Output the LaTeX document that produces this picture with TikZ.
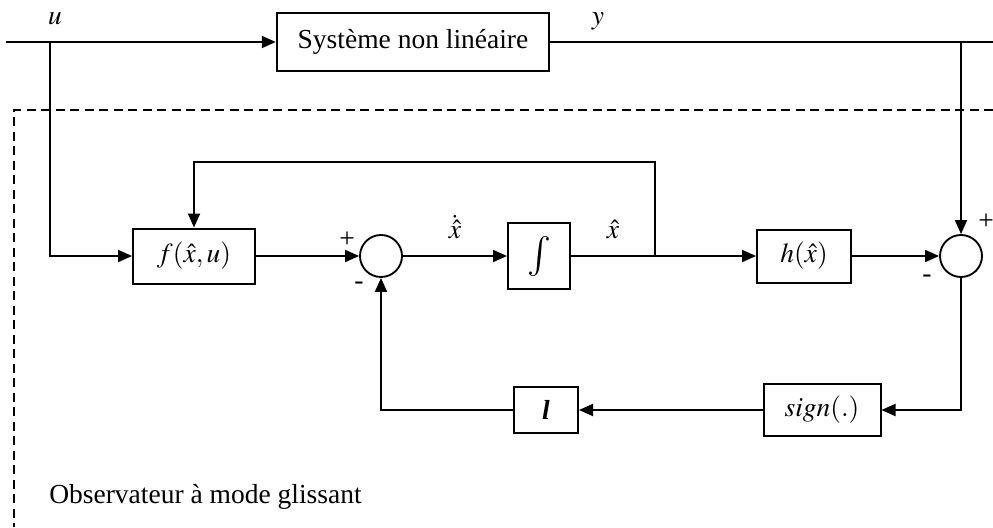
\documentclass[tikz,border=0pt]{standalone}
\usepackage{mathptmx}
\usepackage{fontspec}
\setmainfont{Liberation Serif}
\usetikzlibrary{arrows.meta}

\begin{document}
\begin{tikzpicture}[
  x=0.4pt, y=-0.4pt,
  line width=0.75pt,
  >={Triangle[length=5.6pt,width=4.8pt]},
  % Global text styling
  every node/.style={font=\fontsize{11}{13}\selectfont},
  % Specific styles
  block/.style={draw, line width=0.8pt, inner sep=2pt},
  sum/.style={draw, circle, minimum size=16.8pt, inner sep=0pt},
  sgn/.style={inner sep=0pt, font=\fontsize{11}{12}\selectfont},
  frame/.style={dash pattern=on 3.6pt off 2.2pt}
]
\useasboundingbox (0,0) rectangle (993,527);

% Plant
\node[block, minimum width=109pt, minimum height=23pt] (sys) at (413,42) {Système non linéaire};
\coordinate (in) at (6,42);
\coordinate (usplit) at (50,42);
\coordinate (ysplit) at (961,42);
\coordinate (yout) at (993,42);
\node (ulbl) at (55,19) {$u$};
\node (ylbl) at (598,21) {$y$};

% Observer blocks
\node[block, minimum width=48.8pt, minimum height=22pt] (fbox) at (194,256) {$f(\hat{x},u)$};
\node[sum] (sum1) at (381,256) {};
\node[block, minimum width=24.8pt, minimum height=26.4pt, font=\fontsize{16}{18}\selectfont] (intbox) at (539,256) {$\int$};
\coordinate (branch) at (655,256);
\coordinate (fbtop) at (655,162);
\node[block, minimum width=37.6pt, minimum height=21.2pt] (hbox) at (804,256) {$h(\hat{x})$};
\node[sum] (sum2) at (961,256) {};
\node[block, minimum width=46.8pt, minimum height=20.8pt] (signbox) at (822,410) {$sign(.)$};
\node[block, minimum width=25.6pt, minimum height=18.4pt] (lbox) at (546,410) {\textbf{\textit{l}}};

% Signs at the summing points
\node[sgn] (p1) at (347,240) {+};
\node[sgn] (m1) at (359,286) {-};
\node[sgn] (p2) at (986,222) {+};
\node[sgn] (m2) at (927,279) {-};

% Connections
\draw[->] (in) -- (sys.west);
\draw (sys.east) -- (yout);
\draw[->] (usplit) |- (fbox.west);
\draw[->] (ysplit) -- (sum2.north);
\draw[->] (fbox) -- (sum1);
\draw[->] (sum1) -- node[above=3pt] (xdot) {$\dot{\hat{x}}$} (intbox);
\draw (intbox.east) -- node[above=3pt] (xhat) {$\hat{x}$} (branch);
\draw[->] (branch) -- (hbox);
\draw[->] (branch) -- (fbtop) -| (fbox.north);
\draw[->] (hbox) -- (sum2);
\draw[->] (sum2.south) |- (signbox.east);
\draw[->] (signbox) -- (lbox);
\draw[->] (lbox.west) -| (sum1.south);

% Observer frame
\draw[frame] (993,110) -- (14,110) -- (14,527);
\node[anchor=west] (obs) at (40,497) {Observateur à mode glissant};

\end{tikzpicture}
\end{document}
